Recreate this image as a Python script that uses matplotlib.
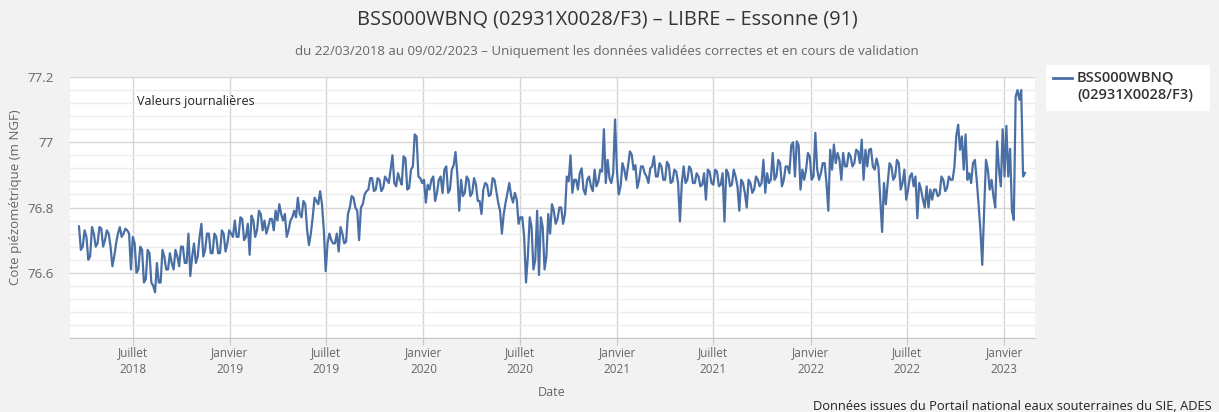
import matplotlib
matplotlib.use("Agg")
import matplotlib.pyplot as plt
from matplotlib.patches import Rectangle
from matplotlib.lines import Line2D
import numpy as np
import pandas as pd

plt.rcParams['font.family'] = ['Open Sans', 'DejaVu Sans']

# niveaux : un point tous les 7 jours depuis le 22/03/2018 ...
start_date = "2018-03-22"
levels_week = [
    76.742, 76.68, 76.71, 76.65, 76.72, 76.69, 76.736, 76.70, 76.72, 76.62,
    76.69, 76.74, 76.72, 76.73, 76.61, 76.69, 76.61, 76.67, 76.58, 76.66,
    76.56, 76.63, 76.57, 76.65, 76.61, 76.63, 76.67, 76.62, 76.68, 76.63,
    76.59, 76.69, 76.65, 76.75, 76.67, 76.72, 76.66, 76.71, 76.66, 76.72,
    76.69, 76.72, 76.76, 76.71, 76.765, 76.71, 76.655, 76.76, 76.73, 76.78,
    76.76, 76.74, 76.765, 76.79, 76.81, 76.76, 76.71, 76.76, 76.79, 76.83,
    76.77, 76.81, 76.685, 76.77, 76.82, 76.85, 76.73, 76.69, 76.70, 76.69,
    76.665, 76.72, 76.695, 76.80, 76.83, 76.79, 76.80, 76.84, 76.855, 76.89,
    76.855, 76.885, 76.86, 76.885, 76.916, 76.875, 76.905, 76.87, 76.95, 76.86,
    76.926, 77.018, 76.89, 76.885, 76.87, 76.885, 76.82, 76.885, 76.844, 76.926,
    76.855, 76.93, 76.90, 76.885, 76.845, 76.885, 76.845, 76.87, 76.82, 76.855,
    76.87, 76.84, 76.885, 76.815, 76.72, 76.815, 76.875, 76.815, 76.825, 76.77,
    76.71, 76.65, 76.74, 76.64, 76.593, 76.74, 76.65, 76.72, 76.79, 76.765,
    76.80, 76.78, 76.88, 76.845, 76.885, 76.905, 76.855, 76.885, 76.865, 76.916,
    76.88, 76.91, 76.875, 76.89, 76.905, 76.916, 76.865, 76.916, 76.926, 76.962,
    76.93, 76.885, 76.926, 76.895, 76.92, 76.957, 76.895, 76.926, 76.885, 76.93,
    76.88, 76.91, 76.757, 76.926, 76.885, 76.916, 76.875, 76.895, 76.87, 76.824,
    76.91, 76.87, 76.91, 76.87, 76.757, 76.905, 76.87, 76.895, 76.79, 76.875,
    76.80, 76.875, 76.855, 76.885, 76.875, 76.845, 76.875, 76.967, 76.895, 76.936,
    76.885, 76.926, 76.99, 76.895, 76.99, 76.916, 76.916, 76.957, 76.895, 76.916,
    76.905, 76.936, 76.79, 76.916, 76.936, 76.946, 76.967, 76.926, 76.957, 76.936,
    76.972, 77.008, 76.977, 76.977, 76.926, 76.95, 76.824, 76.875, 76.875, 76.926,
    76.895, 76.936, 76.875, 76.824, 76.895, 76.865, 76.767, 76.855, 76.80, 76.80,
    76.824, 76.855, 76.84, 76.885, 76.86, 76.885, 76.926, 77.054, 77.018, 77.024,
    76.905, 76.936, 76.885, 76.73, 76.79, 76.916, 76.885, 76.80, 76.916, 77.04,
    77.05, 76.98, 76.762, 77.16, 77.16, 76.906,
]
# ... et un relevé intermédiaire au milieu de chaque semaine
levels_mid = [
    76.67, 76.73, 76.64, 76.74, 76.68, 76.74, 76.68, 76.73, 76.68, 76.65,
    76.72, 76.71, 76.735, 76.72, 76.71, 76.60, 76.68, 76.57, 76.67, 76.57,
    76.54, 76.57, 76.67, 76.61, 76.66, 76.61, 76.65, 76.68, 76.63, 76.72,
    76.65, 76.63, 76.71, 76.65, 76.72, 76.66, 76.72, 76.66, 76.73, 76.665,
    76.73, 76.71, 76.71, 76.77, 76.70, 76.75, 76.775, 76.71, 76.79, 76.73,
    76.72, 76.765, 76.73, 76.76, 76.78, 76.78, 76.73, 76.77, 76.77, 76.78,
    76.82, 76.73, 76.72, 76.83, 76.81, 76.81, 76.605, 76.72, 76.69, 76.72,
    76.74, 76.69, 76.78, 76.835, 76.80, 76.70, 76.81, 76.85, 76.89, 76.85,
    76.89, 76.85, 76.895, 76.875, 76.96, 76.865, 76.885, 76.957, 76.855, 76.916,
    77.024, 76.895, 76.875, 76.815, 76.855, 76.895, 76.845, 76.895, 76.916, 76.845,
    76.916, 76.97, 76.79, 76.835, 76.895, 76.835, 76.89, 76.82, 76.78, 76.875,
    76.835, 76.89, 76.85, 76.79, 76.78, 76.845, 76.835, 76.845, 76.75, 76.77,
    76.57, 76.77, 76.61, 76.79, 76.77, 76.61, 76.78, 76.81, 76.75, 76.80,
    76.75, 76.895, 76.96, 76.885, 76.855, 76.92, 76.84, 76.895, 76.85, 76.865,
    76.916, 77.04, 76.946, 76.875, 77.07, 76.84, 76.936, 76.885, 76.972, 76.916,
    76.86, 76.926, 76.905, 76.875, 76.926, 76.895, 76.936, 76.885, 76.94, 76.875,
    76.916, 76.875, 76.875, 76.875, 76.926, 76.875, 76.905, 76.865, 76.905, 76.916,
    76.875, 76.916, 76.865, 76.905, 76.916, 76.865, 76.916, 76.865, 76.885, 76.845,
    76.885, 76.845, 76.895, 76.865, 76.946, 76.905, 76.885, 76.885, 76.946, 76.865,
    76.926, 76.905, 77.0, 77.003, 76.855, 76.885, 76.967, 76.885, 77.029, 76.885,
    76.936, 76.875, 76.977, 76.993, 76.967, 76.885, 76.926, 76.967, 76.926, 76.977,
    76.936, 76.885, 76.926, 76.98, 76.916, 76.926, 76.725, 76.81, 76.936, 76.885,
    76.946, 76.855, 76.916, 76.855, 76.905, 76.895, 76.875, 76.824, 76.865, 76.855,
    76.855, 76.835, 76.895, 76.85, 76.895, 76.885, 77.02, 76.977, 76.916, 76.885,
    76.875, 76.946, 76.81, 76.624, 76.946, 76.855, 76.835, 77.003, 76.865, 76.895,
    76.895, 76.79, 77.14, 77.13, 76.895,
]

dates_week = pd.date_range(start_date, periods=len(levels_week), freq="7D")
dates_mid = dates_week[:len(levels_mid)] + pd.Timedelta(hours=84)
series = pd.concat([pd.Series(levels_week, index=dates_week),
                    pd.Series(levels_mid, index=dates_mid)]).sort_index()

tick_dates = ["2018-07-01", "2019-01-01", "2019-07-01", "2020-01-01", "2020-07-01",
              "2021-01-01", "2021-07-01", "2022-01-01", "2022-07-01", "2023-01-01"]
tick_labels = ["Juillet\n2018", "Janvier\n2019", "Juillet\n2019", "Janvier\n2020",
               "Juillet\n2020", "Janvier\n2021", "Juillet\n2021", "Janvier\n2022",
               "Juillet\n2022", "Janvier\n2023"]
y_ticks = [76.4, 76.6, 76.8, 77.0, 77.2]
y_labels = ["", "76.6", "76.8", "77", "77.2"]

W, H = 1219, 412
fig = plt.figure(figsize=(W / 100, H / 100), dpi=100, facecolor='#f2f2f2')
ax = fig.add_axes([70 / W, 1 - 338 / H, (1035 - 70) / W, (338 - 77) / H])
ax.set_facecolor('white')

ax.plot(series.index, series.values, color='#4a6fa5', lw=1.6, zorder=3)

ax.set_ylim(76.4, 77.2)
ax.set_xlim(pd.Timestamp("2018-03-05"), pd.Timestamp("2023-02-28"))
ax.set_yticks(y_ticks)
ax.set_yticklabels(y_labels)
ax.set_yticks(np.arange(76.4, 77.21, 0.04), minor=True)
ax.set_xticks(pd.to_datetime(tick_dates))
ax.set_xticklabels(tick_labels, ha='center', linespacing=1.35)

ax.grid(axis='y', which='minor', color='#ededed', lw=1, zorder=0)
ax.grid(axis='y', which='major', color='#d6d6d6', lw=1, zorder=1)
ax.grid(axis='x', which='major', color='#d6d6d6', lw=1, zorder=1)

for s in ['top', 'right', 'left']:
    ax.spines[s].set_visible(False)
ax.spines['bottom'].set_color('#c8c8c8')

ax.tick_params(axis='y', which='both', length=0, labelcolor='#666666', labelsize=9.5, pad=12)
ax.tick_params(axis='x', which='major', length=5, color='#c8c8c8', labelcolor='#666666',
               labelsize=8.5, pad=1)
ax.tick_params(axis='x', which='minor', length=0)

fig.text(607 / W, 1 - 20 / H, "BSS000WBNQ (02931X0028/F3) – LIBRE – Essonne (91)",
         ha='center', va='center', fontsize=14.3, color='#333333')
fig.text(607 / W, 1 - 52 / H,
         "du 22/03/2018 au 09/02/2023 – Uniquement les données validées correctes et en cours de validation",
         ha='center', va='center', fontsize=9.5, color='#666666')
fig.text(16 / W, 1 - 197 / H, "Cote piézométrique (m NGF)", rotation=90,
         ha='center', va='center', fontsize=9.5, color='#666666')
fig.text(552 / W, 1 - 392 / H, "Date", ha='center', va='center', fontsize=9, color='#666666')
fig.text(137 / W, 1 - 102 / H, "Valeurs journalières", ha='left', va='center',
         fontsize=9, color='#222222')

# légende
fig.patches.append(Rectangle((1046 / W, 1 - 111 / H), 164 / W, 46 / H,
                             transform=fig.transFigure, facecolor='white', edgecolor='none'))
fig.lines.append(Line2D([1053 / W, 1072 / W], [1 - 78 / H] * 2, transform=fig.transFigure,
                        color='#4a6fa5', lw=2))
fig.text(1077 / W, 1 - 78 / H, "BSS000WBNQ", ha='left', va='center', fontsize=10.5,
         color='#333333', fontweight='semibold')
fig.text(1077 / W, 1 - 95 / H, "(02931X0028/F3)", ha='left', va='center', fontsize=10.5,
         color='#333333', fontweight='semibold')

fig.text(1212 / W, 1 - 400 / H, "Données issues du Portail national eaux souterraines du SIE, ADES",
         ha='right', va='top', fontsize=9.3, color='#222222')

fig.savefig("out.png", dpi=100, facecolor=fig.get_facecolor())
